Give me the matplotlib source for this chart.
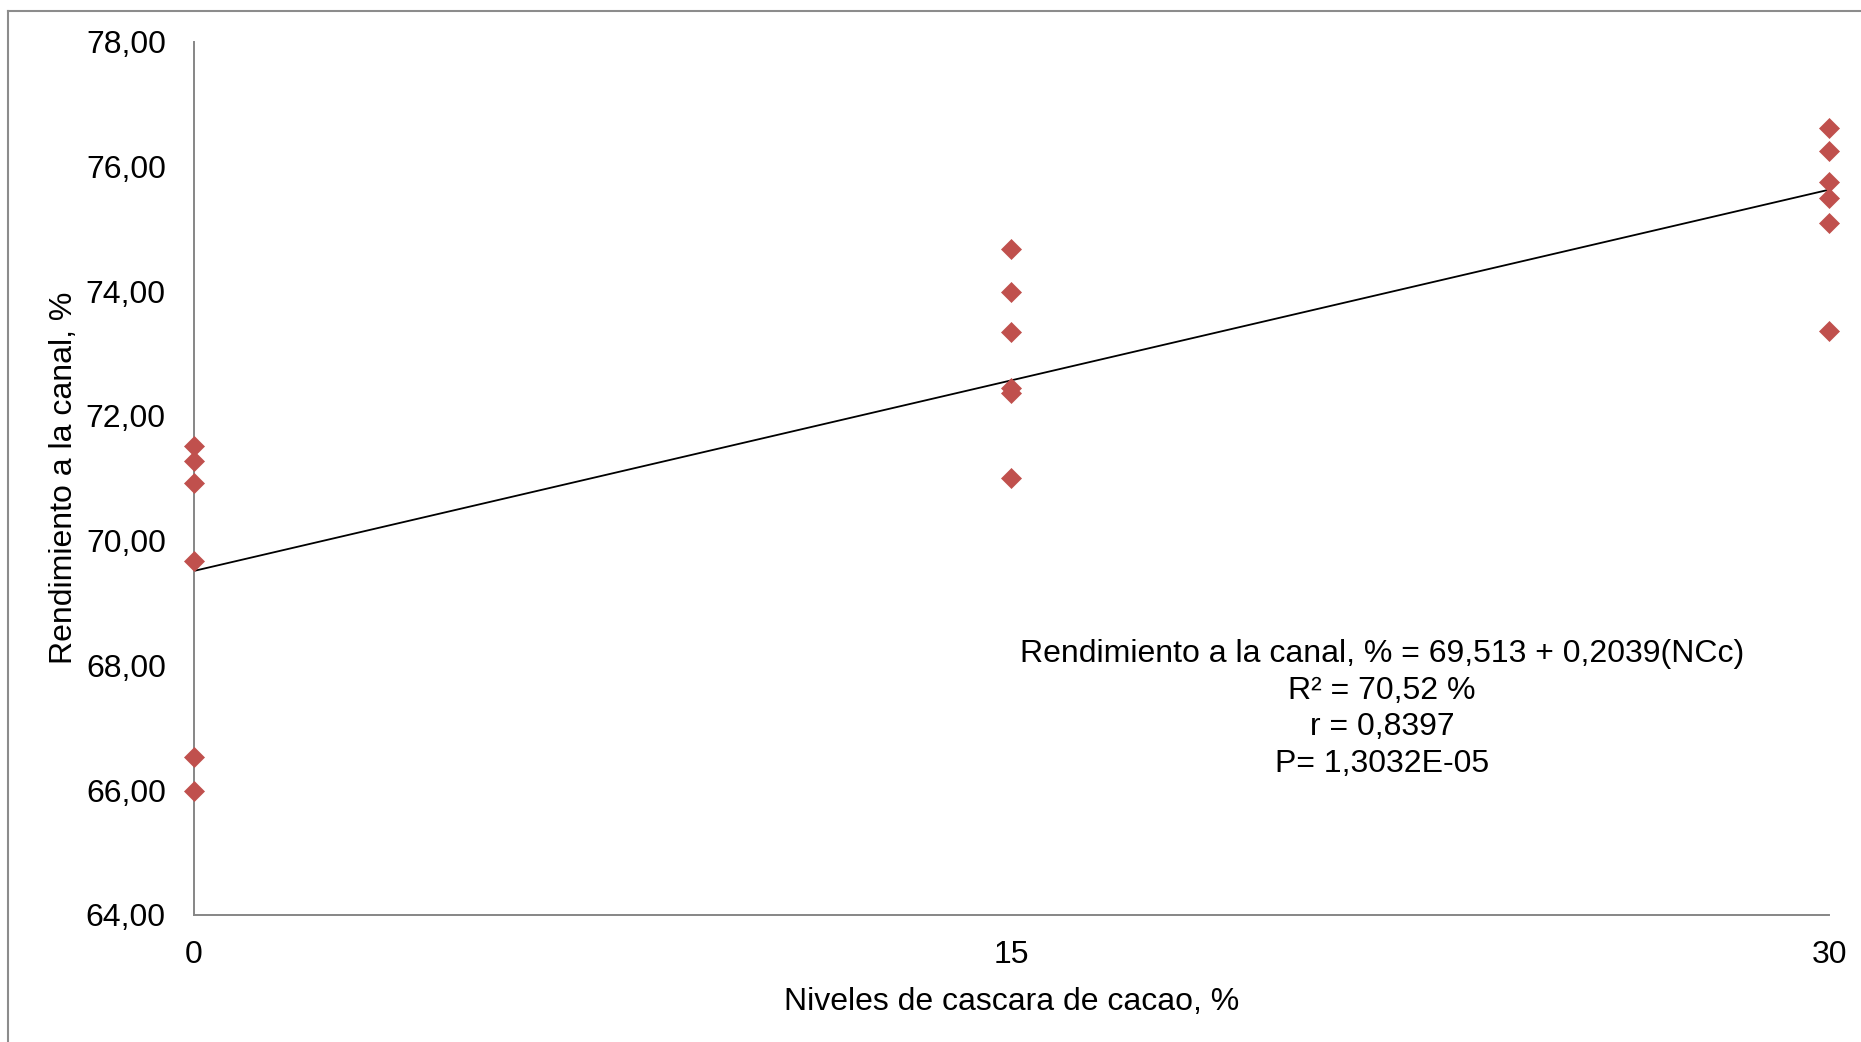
import matplotlib

matplotlib.use("Agg")

import matplotlib.pyplot as plt
import numpy as np
from matplotlib.lines import Line2D
from matplotlib.ticker import FuncFormatter

plt.rcParams["font.family"] = ["Liberation Sans", "DejaVu Sans"]

# Niveles de cascara de cacao (%) y rendimiento a la canal (%)
levels = [0, 0, 0, 0, 0, 0,
          15, 15, 15, 15, 15, 15,
          30, 30, 30, 30, 30, 30]
yield_pct = [71.51, 71.27, 70.92, 69.67, 66.53, 65.98,
             74.67, 73.99, 73.34, 72.45, 72.37, 71.00,
             76.62, 76.25, 75.75, 75.49, 75.10, 73.36]

x_ticks = [0, 15, 30]
y_ticks = [64, 66, 68, 70, 72, 74, 76, 78]

equation_lines = [
    "Rendimiento a la canal, % = 69,513 + 0,2039(NCc)",
    "R² = 70,52 %",
    "r = 0,8397",
    "P= 1,3032E-05",
]

axis_grey = "#868686"
marker_red = "#C0504D"
font_size = 23

figure = plt.figure(figsize=(18.61, 10.42), dpi=100)
axis = figure.add_axes([0.104, 0.122, 0.879, 0.838])

slope, intercept = np.polyfit(levels, yield_pct, 1)
fit_x = np.array([min(levels), max(levels)])
axis.plot(
    fit_x,
    intercept + slope * fit_x,
    color="black",
    linewidth=1.3,
    zorder=2,
)

axis.plot(
    levels,
    yield_pct,
    linestyle="none",
    marker="D",
    markersize=10,
    markerfacecolor=marker_red,
    markeredgecolor=marker_red,
    markeredgewidth=0.5,
    clip_on=False,
    zorder=3,
)

axis.set_xlim(0, 30)
axis.set_ylim(64, 78)
axis.set_xticks(x_ticks)
axis.set_yticks(y_ticks)
axis.yaxis.set_major_formatter(
    FuncFormatter(lambda v, _: f"{v:.2f}".replace(".", ","))
)
axis.tick_params(axis="both", length=0, labelsize=font_size)
axis.tick_params(axis="y", pad=20)
axis.tick_params(axis="x", pad=18)

for side in ("top", "right"):
    axis.spines[side].set_visible(False)
for side in ("left", "bottom"):
    axis.spines[side].set_color(axis_grey)
    axis.spines[side].set_linewidth(1.4)

axis.set_xlabel("Niveles de cascara de cacao, %", fontsize=font_size,
                labelpad=12)
axis.set_ylabel("Rendimiento a la canal, %", fontsize=font_size)
axis.yaxis.set_label_coords(-0.070, 0.5)

# trendline equation box
axis.text(
    21.8,
    67.30,
    "\n".join(equation_lines),
    ha="center",
    va="center",
    multialignment="center",
    fontsize=font_size,
    linespacing=1.28,
)

# outer chart frame, partly cut off at right and bottom
figure.add_artist(Line2D([0.0045, 0.0045], [0.0, 0.9895],
                         color="#8c8c8c", linewidth=1.5,
                         transform=figure.transFigure))
figure.add_artist(Line2D([0.0045, 1.0], [0.9895, 0.9895],
                         color="#8c8c8c", linewidth=1.5,
                         transform=figure.transFigure))

figure.savefig("out.png", dpi=100)
